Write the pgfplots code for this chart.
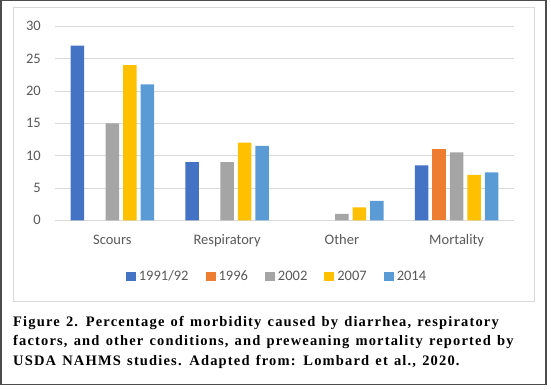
\documentclass[border=0pt]{standalone}
\usepackage{fontspec}
\usepackage{pgfplots}
\pgfplotsset{compat=1.18}
\setmainfont{Liberation Serif}
\newfontfamily\carlito{Carlito}
\newfontfamily\capfont[LetterSpace=8,WordSpace=1.3]{Liberation Serif}
\definecolor{cA}{HTML}{4472C4}
\definecolor{cB}{HTML}{ED7D31}
\definecolor{cC}{HTML}{A5A5A5}
\definecolor{cD}{HTML}{FFC000}
\definecolor{cE}{HTML}{5B9BD5}
\definecolor{gridc}{HTML}{D9D9D9}
\definecolor{tickc}{HTML}{595959}
\begin{document}
\begin{tikzpicture}[x=1bp,y=1bp]
\path (0,0) rectangle (551,389);
\draw[line width=1.5bp, color=black!70] (1,5) rectangle (546,388.5);
\draw[line width=1bp, color=gridc] (13,88) rectangle (534,382);
\begin{axis}[
  at={(55bp,169bp)}, anchor=south west,
  scale only axis, width=459bp, height=194bp,
  xmin=-0.5, xmax=3.5, ymin=0, ymax=30,
  ytick={0,5,10,15,20,25,30},
  xtick={0,1,2,3},
  xticklabels={Scours,Respiratory,Other,Mortality},
  ybar=4bp, bar width=13.5bp,
  axis line style={draw=none},
  major tick length=0pt,
  ymajorgrids,
  grid style={color=gridc, line width=0.75bp},
  /pgf/number format/assume math mode=true,
  ticklabel style={font=\carlito\fontsize{14.5bp}{17bp}\selectfont, color=tickc},
  yticklabel style={anchor=east, inner sep=0pt, xshift=-14bp},
  xticklabel style={anchor=base, inner sep=0pt, yshift=-24bp},
  clip=false,
  legend columns=5,
  legend image code/.code={\path (0bp,0bp) -- (13bp,0bp);\fill[#1,draw=none] (0bp,-4.5bp) rectangle (10bp,4.5bp);},
  legend style={at={(0.4815,-0.2876)}, anchor=center, draw=none, fill=none,
    font=\carlito\fontsize{14.5bp}{17bp}\selectfont, text=tickc,
    /tikz/every even column/.append style={column sep=17bp},
    nodes={inner sep=0pt}},
]
\addplot[fill=cA, draw=none] coordinates {(0,27) (1,9) (3,8.5)};
\addplot[fill=cB, draw=none] coordinates {(3,11)};
\addplot[fill=cC, draw=none] coordinates {(0,15) (1,9) (2,1) (3,10.5)};
\addplot[fill=cD, draw=none] coordinates {(0,24) (1,12) (2,2) (3,7)};
\addplot[fill=cE, draw=none] coordinates {(0,21) (1,11.5) (2,3) (3,7.4)};
\legend{1991/92,1996,2002,2007,2014}
\end{axis}
\begin{scope}[every node/.style={anchor=base west, inner sep=0pt, font=\capfont\bfseries\fontsize{14.5bp}{19bp}\selectfont}]
\node at (13,63) {Figure 2. Percentage of morbidity caused by diarrhea, respiratory};
\node at (13,44) {factors, and other conditions, and preweaning mortality reported by};
\node at (13,24) {USDA NAHMS studies. Adapted from: Lombard et al., 2020.};
\end{scope}
\end{tikzpicture}
\end{document}
